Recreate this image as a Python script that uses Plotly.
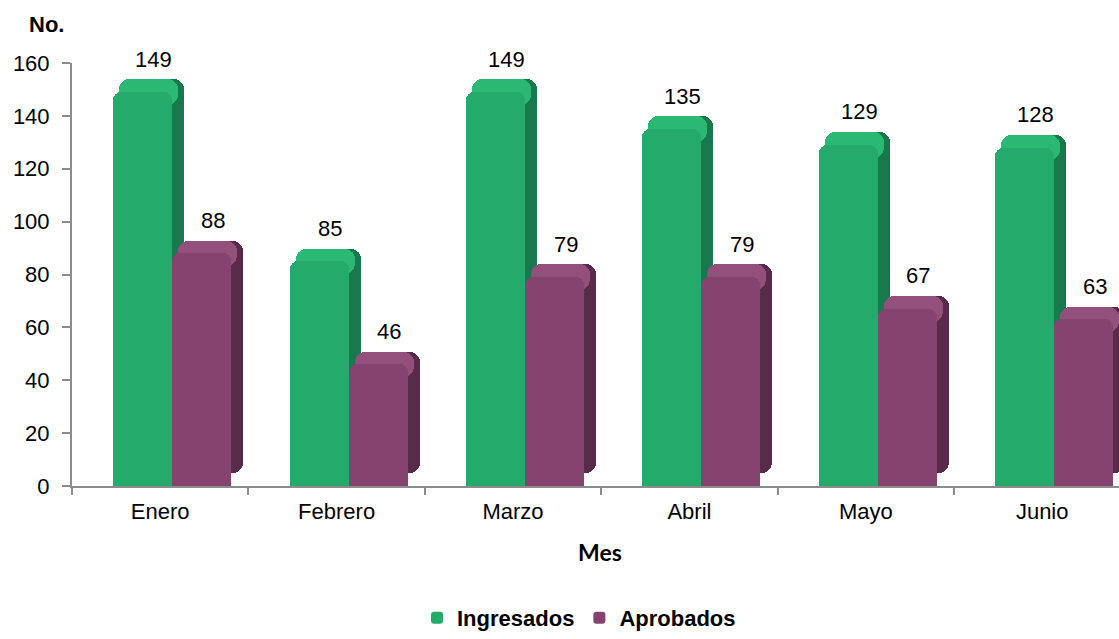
import plotly.graph_objects as go

# ---- data ----
months = ["Enero", "Febrero", "Marzo", "Abril", "Mayo", "Junio"]
ingresados = [149, 85, 149, 135, 129, 128]
aprobados = [88, 46, 79, 79, 67, 63]
series_names = ["Ingresados", "Aprobados"]
y_ticks = [0, 20, 40, 60, 80, 100, 120, 140, 160]

# ---- geometry helpers ----
W, H = 1119, 639
ML, MR, MT, MB = 72, 0, 63, 144
plot_w = W - ML - MR
plot_h = H - MT - MB
x_lo = -0.5
cat_px = 176.4
x_hi = x_lo + plot_w / cat_px
px = 1.0 / cat_px               # category units per pixel
ypx = 160.0 / plot_h            # y units per pixel

bar_w = 59 * px
dx = 12 * px
dy = 13 * ypx

FONT = "Arial, Liberation Sans, sans-serif"

styles = [
    dict(front="#24ab6c", side="#187a4c", top="#2ab874", off=-47 * px),
    dict(front="#86436f", side="#582b4a", top="#93507d", off=12 * px),
]

fig = go.Figure()
for name, vals, st in zip(series_names, [ingresados, aprobados], styles):
    # depth (side) face
    fig.add_trace(go.Bar(
        x=months, y=vals, base=[dy] * len(vals),
        offset=st["off"] + dx, width=bar_w,
        marker=dict(color=st["side"], cornerradius=10, line=dict(width=0)),
        showlegend=False, hoverinfo="skip"))
    # top face (sits behind the front, peeks out above it)
    fig.add_trace(go.Bar(
        x=months, y=[2 * dy] * len(vals), base=[v - dy for v in vals],
        offset=st["off"] + dx / 2, width=bar_w,
        marker=dict(color=st["top"], cornerradius=10, line=dict(width=0)),
        showlegend=False, hoverinfo="skip"))
    # front face
    fig.add_trace(go.Bar(
        x=months, y=vals, name=name,
        offset=st["off"], width=bar_w,
        marker=dict(color=st["front"], cornerradius=8,
                    line=dict(width=0)),
        showlegend=True))

annotations = []
for vals, st in zip([ingresados, aprobados], styles):
    center_px = st["off"] / px + 29.5 + 11
    for m, v in zip(months, vals):
        annotations.append(dict(
            x=m, y=v, xref="x", yref="y", text=str(v), showarrow=False,
            xshift=center_px, yshift=33,
            font=dict(family=FONT, size=22, color="#000000")))

annotations.append(dict(
    x=(46 - ML) / plot_w, y=(H - MB - 24) / plot_h, xref="paper", yref="paper",
    text="<b>No.</b>", showarrow=False, xanchor="center", yanchor="middle",
    font=dict(family=FONT, size=22, color="#000000")))
annotations.append(dict(
    x=(600 - ML) / plot_w, y=(H - MB - 562) / plot_h, xref="paper", yref="paper",
    text="<b>Mes</b>", showarrow=False, xanchor="center", yanchor="middle",
    font=dict(family="Lato, Open Sans, sans-serif", size=23, color="#000000")))

fig.update_layout(
    width=W, height=H, autosize=False,
    margin=dict(l=ML, r=MR, t=MT, b=MB, pad=0),
    paper_bgcolor="white", plot_bgcolor="white",
    barmode="overlay", bargap=0,
    font=dict(family=FONT, size=22, color="#000000"),
    xaxis=dict(
        type="category", range=[x_lo, x_hi], showgrid=False,
        showline=True, linecolor="#8c8c8c", linewidth=2,
        ticks="outside", ticklen=7, tickcolor="#8c8c8c", tickwidth=2,
        tickson="boundaries", ticklabelstandoff=5,
        tickfont=dict(family=FONT, size=22, color="#000000"),
        zeroline=False),
    yaxis=dict(
        range=[0, 160], tickvals=y_ticks, showgrid=False,
        showline=True, linecolor="#8c8c8c", linewidth=2,
        ticks="outside", ticklen=8, tickcolor="#8c8c8c", tickwidth=2,
        ticklabelstandoff=8,
        tickfont=dict(family=FONT, size=22, color="#000000"),
        zeroline=False),
    legend=dict(
        orientation="h", x=(579 - ML) / plot_w, xanchor="center",
        y=(H - MB - 630) / plot_h, yanchor="middle",
        font=dict(family=FONT, size=22, color="#000000", weight="bold"),
        itemwidth=30, bgcolor="rgba(0,0,0,0)"),
    annotations=annotations,
)

fig.write_html("out.html", config={"displayModeBar": False},
               post_script="document.body.style.margin='0';")
